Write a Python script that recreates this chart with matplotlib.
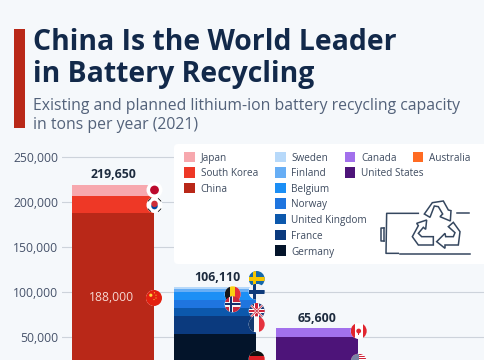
import matplotlib
matplotlib.use("Agg")
import matplotlib.pyplot as plt
from matplotlib.patches import Circle, Rectangle, FancyBboxPatch, Polygon

plt.rcParams['font.family'] = ['Open Sans', 'DejaVu Sans']

# ---------- data ----------
groups = ["Asia", "Europe", "North America", "Oceania"]
asia_names = ["China", "South Korea", "Japan"]
asia_values = [188000, 19000, 12650]
europe_names = ["Germany", "France", "United Kingdom", "Norway", "Belgium", "Finland", "Sweden"]
europe_values = [53700, 20300, 9000, 8500, 8600, 3700, 2310]
america_names = ["United States", "Canada"]
america_values = [50700, 9300]
oceania_names = ["Australia"]
oceania_values = [10000]
total_labels = ["219,650", "106,110", "65,600", None]
inner_label = "188,000"
yticks = [50000, 100000, 150000, 200000, 250000]

colors = {"Japan": "#F7A8AE", "South Korea": "#EE3826", "China": "#B92818",
          "Sweden": "#B7D9FA", "Finland": "#67AEF5", "Belgium": "#1C8FF5",
          "Norway": "#1F75DF", "United Kingdom": "#0C58AC", "France": "#0B3A7E",
          "Germany": "#03142A", "Canada": "#A270EC", "United States": "#4D1479",
          "Australia": "#FF6B22"}
legend_cols = [["Japan", "South Korea", "China"],
               ["Sweden", "Finland", "Belgium", "Norway", "United Kingdom", "France", "Germany"],
               ["Canada", "United States"],
               ["Australia"]]

BG = "#F5F8FB"; DARK = "#12294A"; GREY = "#53627A"; TICK = "#46526A"
W, H = 485, 360
fig = plt.figure(figsize=(W/100, H/100), dpi=100, facecolor=BG)

# ---------- chart axes ----------
L, T = 62, 140
ax = fig.add_axes([L/W, 0, (W-L)/W, (H-T)/H], facecolor="none")
PX = 0.0009                 # pixels per ton
ax.set_ylim((382.3-360)/PX, (382.3-140)/PX)
ax.set_xlim((62-113)/102, (485-113)/102)
for s in ax.spines.values():
    s.set_visible(False)
ax.set_xticks([])
ax.set_yticks(yticks)
ax.set_yticklabels([f"{v:,}" for v in yticks], fontsize=8.7, color=TICK)
ax.tick_params(axis="y", length=0, pad=2.5)
ax.grid(axis="y", color="#CDD3DB", lw=0.8)
ax.set_axisbelow(True)

stacks = [(asia_names, asia_values), (europe_names, europe_values),
          (america_names, america_values), (oceania_names, oceania_values)]
for i, (names, vals) in enumerate(stacks):
    bottom = 0
    for n, v in zip(names, vals):
        ax.bar(i, v, 0.81, bottom=bottom, color=colors[n], lw=0, zorder=2)
        bottom += v
    if total_labels[i]:
        dx = [0, 2.1, 0, 0][i]
        ax.annotate(total_labels[i], (i, bottom), xytext=(dx*0.72, 7), textcoords="offset points",
                    ha="center", va="center", fontsize=8.9, fontweight="bold",
                    color="#1D2B3E", zorder=3)
ax.annotate(inner_label, (0, asia_values[0]/2), xytext=(-1.4, 0), textcoords="offset points",
            ha="center", va="center", fontsize=8.7, color="#F6D9D3", zorder=3,
            annotation_clip=False)

# ---------- pixel overlay ----------
ov = fig.add_axes([0, 0, 1, 1], facecolor="none")
ov.set_xlim(0, W); ov.set_ylim(H, 0); ov.axis("off")

ov.add_patch(Rectangle((14.5, 29), 11, 99, color="#B92818", lw=0))
ov.text(33, 50, "China Is the World Leader", fontsize=20.4, fontweight="bold", color=DARK, va="baseline")
ov.text(33, 81.7, "in Battery Recycling", fontsize=20.4, fontweight="bold", color=DARK, va="baseline")
ov.text(33, 110, "Existing and planned lithium-ion battery recycling capacity", fontsize=11.3, color=GREY, va="baseline")
ov.text(33, 129, "in tons per year (2021)", fontsize=11.3, color=GREY, va="baseline")

# legend panel
ov.add_patch(FancyBboxPatch((174, 144), 330, 120, boxstyle="round,pad=0,rounding_size=4",
                            mutation_aspect=1, fc="white", ec="none", lw=0, zorder=1))
col_sw = [184.3, 275.3, 344.7, 412.7]
col_tx = [200.7, 291.5, 361, 429]
row_y = [157, 172.5, 188, 203.5, 219, 235, 250.5]
for c, names in enumerate(legend_cols):
    for r, n in enumerate(names):
        ov.add_patch(Rectangle((col_sw[c], row_y[r]-5.3), 10.6, 10.6, color=colors[n], lw=0, zorder=2))
        ov.text(col_tx[c], row_y[r], n, fontsize=7.2, color="#3F4C60", va="center_baseline", zorder=2)

# battery + recycling icon (zoom coordinates -> pixels)
def P(pts):
    return [(375+x/3, 190+y/3) for x, y in pts]
ICON = "#35475F"
for pts in [[(130, 70), (35, 70), (33, 190), (70, 190)], [(75, 192), (285, 192)], [(245, 70), (283, 70)],
            [(28, 113), (17, 113), (17, 152), (28, 152)], [(28, 113), (28, 152)]]:
    xy = P(pts)
    ov.plot(*zip(*xy), color=ICON, lw=1.1, zorder=2)
for pts in [[(148, 72), (172, 38), (205, 33), (220, 60), (228, 62), (226, 93), (195, 80), (203, 72),
             (190, 50), (178, 48), (165, 82)],
            [(155, 90), (125, 100), (130, 107), (112, 140), (130, 165), (175, 165), (175, 140),
             (140, 140), (130, 130), (145, 112), (152, 118)],
            [(235, 97), (255, 125), (250, 165), (210, 165), (210, 175), (185, 155), (210, 130),
             (212, 140), (235, 140), (240, 128), (220, 110)]]:
    ov.add_patch(Polygon(P(pts), closed=True, fc="none", ec=ICON, lw=1.1, zorder=2))

# flags
Z = 5
def flag(cx, cy, draw, r=8):
    clip = Circle((cx, cy), r, fc="white", ec="none", zorder=Z)
    ov.add_patch(clip)
    def rect(x0, y0, x1, y1, c):
        p = Rectangle((cx+x0*r, cy+y0*r), (x1-x0)*r, (y1-y0)*r, fc=c, lw=0, zorder=Z+0.1)
        ov.add_patch(p); p.set_clip_path(clip)
    def disc(x, y, rr, c):
        p = Circle((cx+x*r, cy+y*r), rr*r, fc=c, lw=0, zorder=Z+0.2)
        ov.add_patch(p); p.set_clip_path(clip)
    def line(x0, y0, x1, y1, c, lw):
        l, = ov.plot([cx+x0*r, cx+x1*r], [cy+y0*r, cy+y1*r], color=c, lw=lw, zorder=Z+0.15,
                     solid_capstyle="butt")
        l.set_clip_path(clip)
    draw(rect, disc, line)

def japan(R, D, Ln): D(0, 0, .55, "#BC0A2D")
def korea(R, D, Ln):
    D(0, .14, .4, "#0047A0"); D(0, -.14, .4, "#CD2E3A")
    for s in (1, -1):
        Ln(-.85*s, -.45, -.45*s, -.85, "#222222", .7); Ln(-.85*s, .45, -.45*s, .85, "#222222", .7)
def china(R, D, Ln):
    R(-1, -1, 1, 1, "#E3200F"); D(-.4, -.35, .2, "#FFD83A")
    for x, y in [(.05, -.65), (.25, -.35), (.25, 0), (.0, .2)]:
        D(x, y, .07, "#FFD83A")
def sweden(R, D, Ln):
    R(-1, -1, 1, 1, "#1668A8"); R(-1, -.2, 1, .2, "#F7C600"); R(-.45, -1, -.05, 1, "#F7C600")
def finland(R, D, Ln):
    R(-1, -1, 1, 1, "#F2F4F7"); R(-1, -.25, 1, .25, "#0E3A7A"); R(-.5, -1, -.05, 1, "#0E3A7A")
def belgium(R, D, Ln):
    R(-1, -1, -.33, 1, "#14161A"); R(-.33, -1, .33, 1, "#F9D112"); R(.33, -1, 1, 1, "#E5303A")
def norway(R, D, Ln):
    R(-1, -1, 1, 1, "#C8283C"); R(-1, -.3, 1, .3, "#F4F4F4"); R(-.5, -1, .1, 1, "#F4F4F4")
    R(-1, -.14, 1, .14, "#13306E"); R(-.34, -1, -.06, 1, "#13306E")
def uk(R, D, Ln):
    R(-1, -1, 1, 1, "#203A78")
    Ln(-1, -1, 1, 1, "white", 1.6); Ln(-1, 1, 1, -1, "white", 1.6)
    Ln(-1, -1, 1, 1, "#D0243A", .6); Ln(-1, 1, 1, -1, "#D0243A", .6)
    R(-1, -.3, 1, .3, "white"); R(-.3, -1, .3, 1, "white")
    R(-1, -.16, 1, .16, "#D0243A"); R(-.16, -1, .16, 1, "#D0243A")
def france(R, D, Ln):
    R(-1, -1, -.33, 1, "#14396F"); R(-.33, -1, .33, 1, "#FAFAFA"); R(.33, -1, 1, 1, "#E5333F")
def germany(R, D, Ln):
    R(-1, -1, 1, -.33, "#111111"); R(-1, -.33, 1, .33, "#DD1F26"); R(-1, .33, 1, 1, "#FFCC00")
def canada(R, D, Ln):
    R(-1, -1, -.5, 1, "#E0252F"); R(.5, -1, 1, 1, "#E0252F"); D(0, 0, .3, "#E0252F")
    R(-.06, 0, .06, .5, "#E0252F")
def usa(R, D, Ln):
    for k in range(7):
        R(-1, -1+k*2/7, 1, -1+(k+.5)*2/7, "#D0243A")
    R(-1, -1, 0, .05, "#7A83A5")

for cx, cy, fn in [(154.5, 190, japan), (154.5, 205, korea), (154, 298, china),
                   (256.7, 279, sweden), (256.7, 291.7, finland),
                   (232.7, 294.3, belgium), (232.7, 304.3, norway),
                   (256.7, 311, uk), (256.7, 324.3, france), (256.7, 359, germany),
                   (358.7, 331, canada), (358.7, 361.7, usa)]:
    flag(cx, cy, fn)

fig.savefig("out.png", dpi=100, facecolor=BG)
